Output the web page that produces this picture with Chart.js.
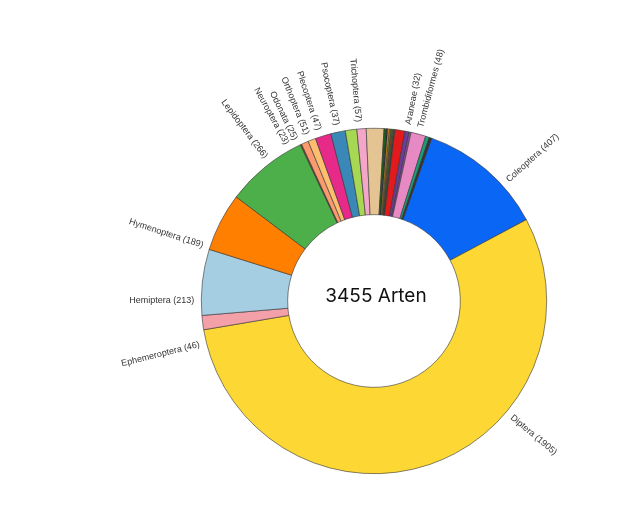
<!DOCTYPE html>
<html><head><meta charset="utf-8">
<script src="https://cdn.jsdelivr.net/npm/chart.js@4"></script>
<style>html,body{margin:0;padding:0;background:#fff}#w{width:640px;height:527px}</style>
</head><body><div id="w"><canvas id="c"></canvas></div>
<script>
const categories = ["Coleoptera","Diptera","Ephemeroptera","Hemiptera","Hymenoptera","Lepidoptera","s1","Neuroptera","Odonata","Orthoptera","Plecoptera","Psocoptera","s2","Trichoptera","s3","s4","s5","s6","s7","s8","s9","Araneae","s10","s11","Trombidiformes","s12","s13"];
const values = [407,1905,46,213,189,266,4,23,25,51,47,37,30,57,8,4,5,5,6,3,4,32,14,6,48,12,8];
const labelled = ["Coleoptera","Diptera","Ephemeroptera","Hemiptera","Hymenoptera","Lepidoptera","Neuroptera","Odonata","Orthoptera","Plecoptera","Psocoptera","Trichoptera","Araneae","Trombidiformes"];
const colors = ["#0a66f5","#fdd835","#f4a0a8","#a6cee3","#ff7f00","#4daf4a","#8b4a2b","#fb9a6f","#fdbf6f","#e7298a","#3a88b8","#a6d854","#f4a6c8","#e5c494","#1b5e20","#222","#ff9f00","#9a8a20","#7a4a20","#33a02c","#444","#e31a1c","#6a3d9a","#984ea3","#e78ac3","#1b9e77","#333"];
const totalText = "3455 Arten";
// label direction (degrees clockwise from top) — layout only
const labelDeg = {Coleoptera:48,Diptera:130,Ephemeroptera:256,Hemiptera:270,Hymenoptera:288,Lepidoptera:323,Neuroptera:331,Odonata:334,Orthoptera:338,Plecoptera:342,Psocoptera:348,Trichoptera:355,Araneae:11,Trombidiformes:15};

const labelPlugin = {
  id:'lbl',
  afterDatasetsDraw(chart){
    const ctx=chart.ctx, meta=chart.getDatasetMeta(0);
    ctx.save();
    ctx.font='9px "Liberation Sans", Arial, sans-serif';
    ctx.fillStyle='#333';
    ctx.textBaseline='middle';
    meta.data.forEach((arc,i)=>{
      const name=categories[i];
      if(!labelled.includes(name)) return;
      const a=(labelDeg[name]-90)*Math.PI/180;
      const r=arc.outerRadius+7;
      const x=arc.x+Math.cos(a)*r, y=arc.y+Math.sin(a)*r;
      ctx.save(); ctx.translate(x,y);
      const txt=name+" ("+values[i]+")";
      if(Math.cos(a)<-0.01){ctx.rotate(a+Math.PI);ctx.textAlign='right';}
      else{ctx.rotate(a);ctx.textAlign='left';}
      ctx.fillText(txt,0,0);
      ctx.restore();
    });
    const a0=meta.data[0];
    ctx.font='19px Inter, "Noto Sans", sans-serif';
    ctx.fillStyle='#111';ctx.textAlign='center';
    ctx.fillText(totalText,a0.x+2,a0.y-5);
    ctx.restore();
  }
};

new Chart(document.getElementById('c'),{
  type:'doughnut',
  data:{labels:categories,datasets:[{data:values,backgroundColor:colors,borderColor:'#333',borderWidth:0.6}]},
  options:{responsive:true,maintainAspectRatio:false,animation:false,cutout:'50%',rotation:19.5,
    layout:{padding:{left:108,top:128,bottom:53,right:0}},
    plugins:{legend:{display:false},tooltip:{enabled:false}}},
  plugins:[labelPlugin]
});
</script></body></html>
